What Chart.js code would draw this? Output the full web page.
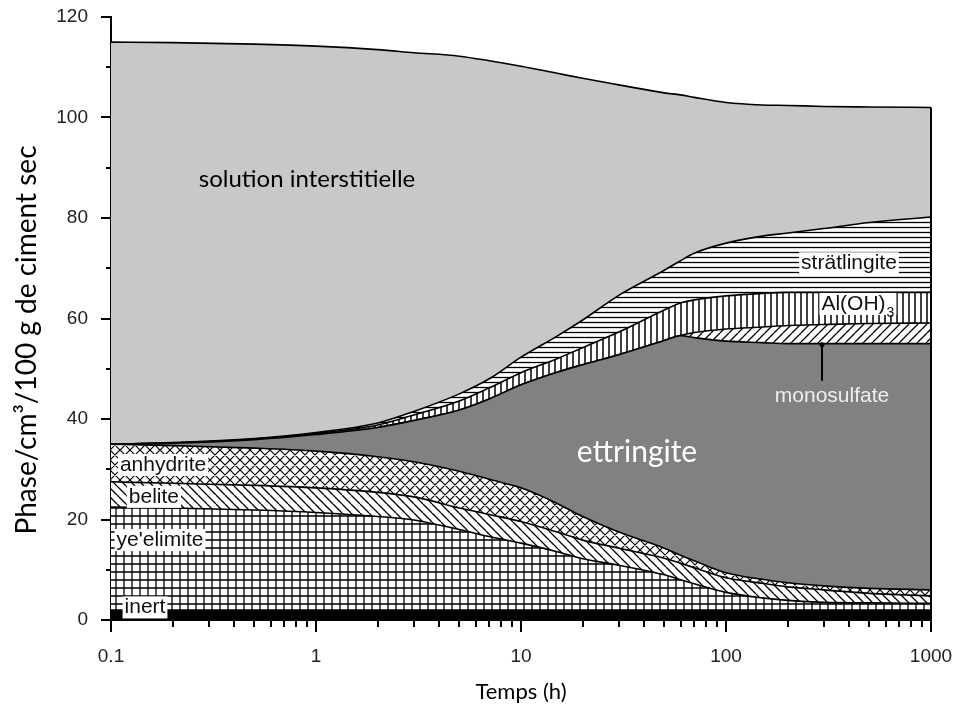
<!DOCTYPE html>
<html>
<head>
<meta charset="utf-8">
<script src="https://cdn.jsdelivr.net/npm/chart.js@4.4.0/dist/chart.umd.min.js"></script>
<style>
  html, body { margin: 0; padding: 0; background: #fff; }
</style>
</head>
<body>
<canvas id="chart" width="954" height="715"></canvas>
<script>
// time axis (h) and phase volumes (cm3 / 100 g de ciment sec), bottom to top
const hours = [0.1, 0.2, 0.5, 1, 2, 3, 5, 7, 10, 15, 20, 30, 50, 60, 70, 100, 150, 200, 300, 500, 1000];
const inert = [2, 2, 2, 2, 2, 2, 2, 2, 2, 2, 2, 2, 2, 2, 2, 2, 2, 2, 2, 2, 2];
const yeelimite = [20.5, 20.3, 19.9, 19.4, 18.6, 17.9, 16.0, 14.6, 13.3, 11.6, 10.2, 8.9, 7.0, 6.0, 5.2, 3.5, 2.4, 1.9, 1.5, 1.4, 1.3];
const belite = [5.0, 4.9, 4.9, 4.9, 4.8, 4.6, 4.3, 4.4, 4.3, 3.9, 3.7, 3.4, 3.3, 3.3, 3.2, 2.9, 2.9, 2.7, 2.5, 1.9, 1.5];
const anhydrite = [7.5, 7.5, 7.4, 7.3, 7.1, 7.0, 7.3, 7.0, 6.7, 5.7, 4.7, 3.2, 2.0, 1.6, 1.4, 1.0, 0.8, 0.8, 0.8, 1.0, 1.2];
const ettringite = [0, 0.5, 1.7, 3.3, 5.8, 8.2, 12.2, 16.0, 20.5, 26.1, 30.2, 35.3, 41.3, 43.7, 44.4, 46.1, 47.1, 47.6, 48.2, 48.7, 49.0];
const monosulfate = [0, 0, 0, 0, 0, 0, 0, 0, 0, 0, 0, 0, 0, 0, 1.0, 2.4, 3.1, 3.6, 3.8, 4.0, 4.1];
const aluminium = [0, 0, 0.1, 0.2, 0.5, 1.1, 1.8, 2.2, 2.4, 2.7, 3.4, 4.5, 6.1, 6.5, 6.5, 6.6, 6.7, 6.6, 6.4, 6.2, 6.1];
const stratlingite = [0, 0.1, 0.1, 0.2, 0.4, 0.7, 1.4, 1.8, 3.1, 4.5, 5.5, 7.3, 7.9, 8.4, 9.3, 10.5, 11.4, 11.8, 12.7, 13.9, 15.0];
const solution = [80.0, 79.6, 78.5, 76.9, 74.3, 71.4, 67.2, 63.3, 57.9, 52.3, 48.1, 41.9, 35.3, 33.0, 31.0, 28.0, 26.1, 25.4, 24.3, 23.0, 21.8];

const xTicks = [0.1, 1, 10, 100, 1000];
const yTicks = [0, 20, 40, 60, 80, 100, 120];

const canvas = document.getElementById('chart');
const ctx = canvas.getContext('2d');

// hatch fills
function makePattern(size, lineWidth, draw) {
    const c = document.createElement('canvas');
    c.width = size;
    c.height = size;
    const g = c.getContext('2d');
    g.fillStyle = '#fff';
    g.fillRect(0, 0, size, size);
    g.strokeStyle = '#000';
    g.lineWidth = lineWidth;
    g.beginPath();
    draw(g, size);
    g.stroke();
    return ctx.createPattern(c, 'repeat');
}

const gridFill = makePattern(8, 1.3, (g, s) => {
    g.moveTo(s / 2, 0); g.lineTo(s / 2, s);
    g.moveTo(0, s / 2); g.lineTo(s, s / 2);
});
const backFill = makePattern(9, 1.3, (g, s) => {
    for (const k of [-s, 0, s]) { g.moveTo(k, 0); g.lineTo(k + s, s); }
});
const crossFill = makePattern(10, 1.2, (g, s) => {
    for (const k of [-s, 0, s]) {
        g.moveTo(k, 0); g.lineTo(k + s, s);
        g.moveTo(k, s); g.lineTo(k + s, 0);
    }
});
const fwdFill = makePattern(9, 1.3, (g, s) => {
    for (const k of [-s, 0, s]) { g.moveTo(k, s); g.lineTo(k + s, 0); }
});
const vertFill = makePattern(6, 1.5, (g, s) => {
    g.moveTo(s / 2, 0); g.lineTo(s / 2, s);
});
const horizFill = makePattern(5, 1.3, (g, s) => {
    g.moveTo(0, s / 2); g.lineTo(s, s / 2);
});

const layers = [
    { label: 'inert', data: inert, fill: '#000' },
    { label: "ye'elimite", data: yeelimite, fill: gridFill },
    { label: 'belite', data: belite, fill: backFill },
    { label: 'anhydrite', data: anhydrite, fill: crossFill },
    { label: 'ettringite', data: ettringite, fill: '#818181' },
    { label: 'monosulfate', data: monosulfate, fill: fwdFill },
    { label: 'Al(OH)3', data: aluminium, fill: vertFill },
    { label: 'strätlingite', data: stratlingite, fill: horizFill },
    { label: 'solution interstitielle', data: solution, fill: '#c8c8c8' }
];

// text placed inside the chart, at data coordinates
const labelFont = '21px "Liberation Sans"';
const notes = [
    { text: 'solution interstitielle', t: 0.904, v: 87.8, font: '24px Lato', color: '#000' },
    { text: 'ettringite', t: 36.8, v: 33.4, font: '30px Lato', color: '#fff' },
    { text: 'strätlingite', t: 398, v: 71.0, font: labelFont, color: '#111', box: true },
    { text: 'Al(OH)', sub: '3', t: 440, v: 62.9, font: labelFont, color: '#111', box: true },
    { text: 'monosulfate', t: 329, v: 44.6, font: labelFont, color: '#eee' },
    { text: 'anhydrite', t: 0.1795, v: 30.85, font: labelFont, color: '#111', box: true },
    { text: 'belite', t: 0.162, v: 24.5, font: labelFont, color: '#111', box: true },
    { text: "ye'elimite", t: 0.1734, v: 15.9, font: labelFont, color: '#111', box: true },
    { text: 'inert', t: 0.1465, v: 2.5, font: labelFont, color: '#111', box: true }
];

const decorations = {
    id: 'decorations',
    afterDraw(chart) {
        const c = chart.ctx;
        const x = chart.scales.x;
        const y = chart.scales.y;
        const left = chart.chartArea.left;
        const bottom = chart.chartArea.bottom;
        c.save();
        c.strokeStyle = '#000';
        c.lineWidth = 2;
        c.beginPath();
        // y ticks: long at labels, short in between
        for (let v = 0; v <= 120; v += 10) {
            const py = Math.round(y.getPixelForValue(v));
            c.moveTo(left, py);
            c.lineTo(left - (v % 20 === 0 ? 10 : 5), py);
        }
        // x ticks: long at decades, short at 2..9
        for (let d = 0.1; d < 1001; d *= 10) {
            for (let m = 1; m <= 9; m++) {
                const t = d * m;
                if (t > 1000.001) break;
                const px = Math.round(x.getPixelForValue(t));
                c.moveTo(px, bottom);
                c.lineTo(px, bottom + (m === 1 ? 12 : 7));
            }
        }
        // right edge of the stacked areas
        const last = hours.length - 1;
        let total = 0;
        layers.forEach(l => { total += l.data[last]; });
        const rx = x.getPixelForValue(hours[last]);
        c.moveTo(rx, bottom);
        c.lineTo(rx, y.getPixelForValue(total));
        c.stroke();

        // arrow pointing at the monosulfate band
        const ax = x.getPixelForValue(294);
        c.lineWidth = 2;
        c.beginPath();
        c.moveTo(ax, y.getPixelForValue(47.6));
        c.lineTo(ax, y.getPixelForValue(54.6));
        c.stroke();
        c.beginPath();
        c.arc(ax, y.getPixelForValue(54.8), 2.5, 0, Math.PI * 2);
        c.fillStyle = '#000';
        c.fill();

        c.textBaseline = 'middle';
        notes.forEach(n => {
            const px = x.getPixelForValue(n.t);
            const py = y.getPixelForValue(n.v);
            c.font = n.font;
            let w = c.measureText(n.text).width;
            let sw = 0;
            if (n.sub) {
                c.font = '14px "Liberation Sans"';
                sw = c.measureText(n.sub).width + 1;
                c.font = n.font;
            }
            const tw = w + sw;
            const sx = px - tw / 2;
            if (n.box) {
                c.fillStyle = '#fff';
                c.fillRect(sx - 2, py - 11, tw + 4, 22);
            }
            c.fillStyle = n.color;
            c.textAlign = 'left';
            c.fillText(n.text, sx, py);
            if (n.sub) {
                c.font = '14px "Liberation Sans"';
                c.fillText(n.sub, sx + w + 1, py + 9);
            }
        });

        // y axis title
        c.save();
        c.translate(27, 340);
        c.rotate(-Math.PI / 2);
        c.font = '28px Lato';
        c.fillStyle = '#000';
        c.textAlign = 'center';
        c.fillText('Phase/cm³/100 g de ciment sec', 0, 0);
        c.restore();
        c.restore();
    }
};

new Chart(ctx, {
    type: 'line',
    data: {
        labels: hours,
        datasets: layers.map((l, i) => ({
            label: l.label,
            data: l.data.map((v, j) => ({ x: hours[j], y: v })),
            fill: i === 0 ? 'origin' : '-1',
            backgroundColor: l.fill,
            borderColor: '#000',
            borderWidth: 1.6,
            pointRadius: 0,
            cubicInterpolationMode: 'monotone'
        }))
    },
    options: {
        responsive: false,
        animation: false,
        events: [],
        layout: { padding: { left: 0, right: 23, top: 17, bottom: 0 } },
        plugins: {
            legend: { display: false },
            tooltip: { enabled: false }
        },
        scales: {
            x: {
                type: 'logarithmic',
                min: 0.1,
                max: 1000,
                afterBuildTicks: s => { s.ticks = xTicks.map(v => ({ value: v })); },
                afterFit: s => { s.height = 95; s.paddingLeft = 0; s.paddingRight = 0; },
                ticks: {
                    callback: v => String(v),
                    font: { family: '"Liberation Sans"', size: 19 },
                    color: '#222',
                    padding: 15,
                    maxRotation: 0,
                    autoSkip: false
                },
                grid: { display: false, drawTicks: true, tickLength: 10 },
                border: { display: true, color: '#000', width: 2 },
                title: {
                    display: true,
                    text: 'Temps (h)',
                    font: { family: 'Lato', size: 22 },
                    color: '#000',
                    padding: { top: 0, bottom: 10 }
                }
            },
            y: {
                stacked: true,
                min: 0,
                max: 120,
                afterBuildTicks: s => { s.ticks = yTicks.map(v => ({ value: v })); },
                afterFit: s => { s.width = 111; s.paddingTop = 0; s.paddingBottom = 0; },
                ticks: {
                    font: { family: '"Liberation Sans"', size: 19 },
                    color: '#222',
                    padding: 13
                },
                grid: { display: false, drawTicks: true, tickLength: 10 },
                border: { display: true, color: '#000', width: 2 }
            }
        }
    },
    plugins: [decorations]
});
</script>
</body>
</html>
